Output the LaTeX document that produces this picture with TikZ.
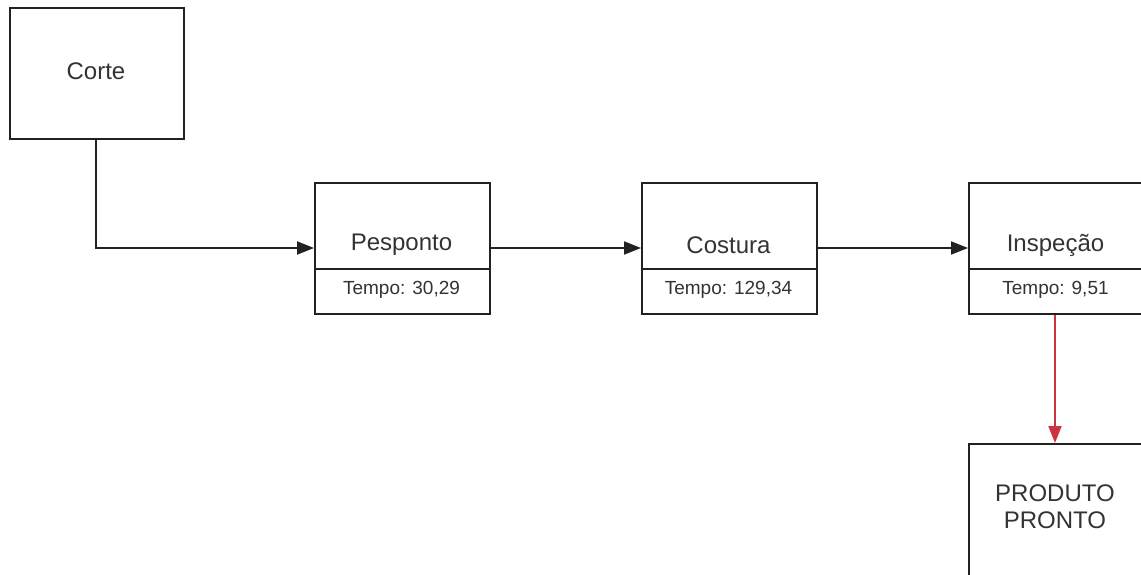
\documentclass[tikz,border=0pt]{standalone}
\usepackage{fontspec}
\setmainfont{Liberation Sans}
\usetikzlibrary{arrows.meta}
\definecolor{ink}{HTML}{222222}
\definecolor{txt}{HTML}{333333}
\definecolor{redline}{HTML}{CC3340}
\tikzset{
  box/.style={draw=ink, line width=2pt, fill=white, inner sep=0pt, anchor=north west},
  lbl/.style={text=txt, font=\fontsize{24}{27}\selectfont, inner sep=0pt, align=center},
  sub/.style={text=txt, font=\fontsize{19}{22}\selectfont, inner sep=0pt},
  conn/.style={draw=ink, line width=2pt, -{Triangle[length=17pt,width=13pt]}},
  redconn/.style={draw=redline, line width=2pt, -{Triangle[length=17pt,width=13pt]}},
  divider/.style={draw=ink, line width=2pt}
}
\begin{document}
\begin{tikzpicture}[x=1pt,y=-1pt]
\useasboundingbox (0,0) rectangle (1141,574);
\clip (0,0) rectangle (1141,574);
% boxes
\node[box, minimum width=174pt, minimum height=131pt] (corte) at (9,7) {};
\node[box, minimum width=175pt, minimum height=131pt] (pesp) at (314,182) {};
\node[box, minimum width=175pt, minimum height=131pt] (cost) at (641,182) {};
\node[box, minimum width=175pt, minimum height=131pt] (insp) at (968,182) {};
\node[box, minimum width=175pt, minimum height=140pt] (prod) at (968,443) {};
% dividers
\coordinate (pespL) at (314,269); \coordinate (pespR) at (489,269);
\coordinate (costL) at (641,269); \coordinate (costR) at (816,269);
\coordinate (inspL) at (968,269); \coordinate (inspR) at (1143,269);
\draw[divider] (pespL) -- (pespR);
\draw[divider] (costL) -- (costR);
\draw[divider] (inspL) -- (inspR);
% texts
\node[lbl] (tcorte) at (96,71) {Corte};
\node[lbl] (tpesp) at (401.5,245) {Pesponto};
\node[lbl] (tcost) at (728.5,245) {Costura};
\node[lbl] (tinsp) at (1055.5,245) {Inspeção};
\node[sub] (spesp) at (401.5,290) {Tempo: 30,29};
\node[sub] (scost) at (728.5,290) {Tempo: 129,34};
\node[sub] (sinsp) at (1055.5,290) {Tempo: 9,51};
\node[lbl] (tprod) at (1055,507) {PRODUTO\\PRONTO};
% connectors
\coordinate (bend) at (96,248);
\draw[conn] (corte.south -| bend) -- (bend) -- (pesp.west |- bend);
\draw[conn] (pesp.east |- bend) -- (cost.west |- bend);
\draw[conn] (cost.east |- bend) -- (insp.west |- bend);
\draw[redconn] (insp.south -| tprod) -- (prod.north -| tprod);
\end{tikzpicture}
\end{document}
